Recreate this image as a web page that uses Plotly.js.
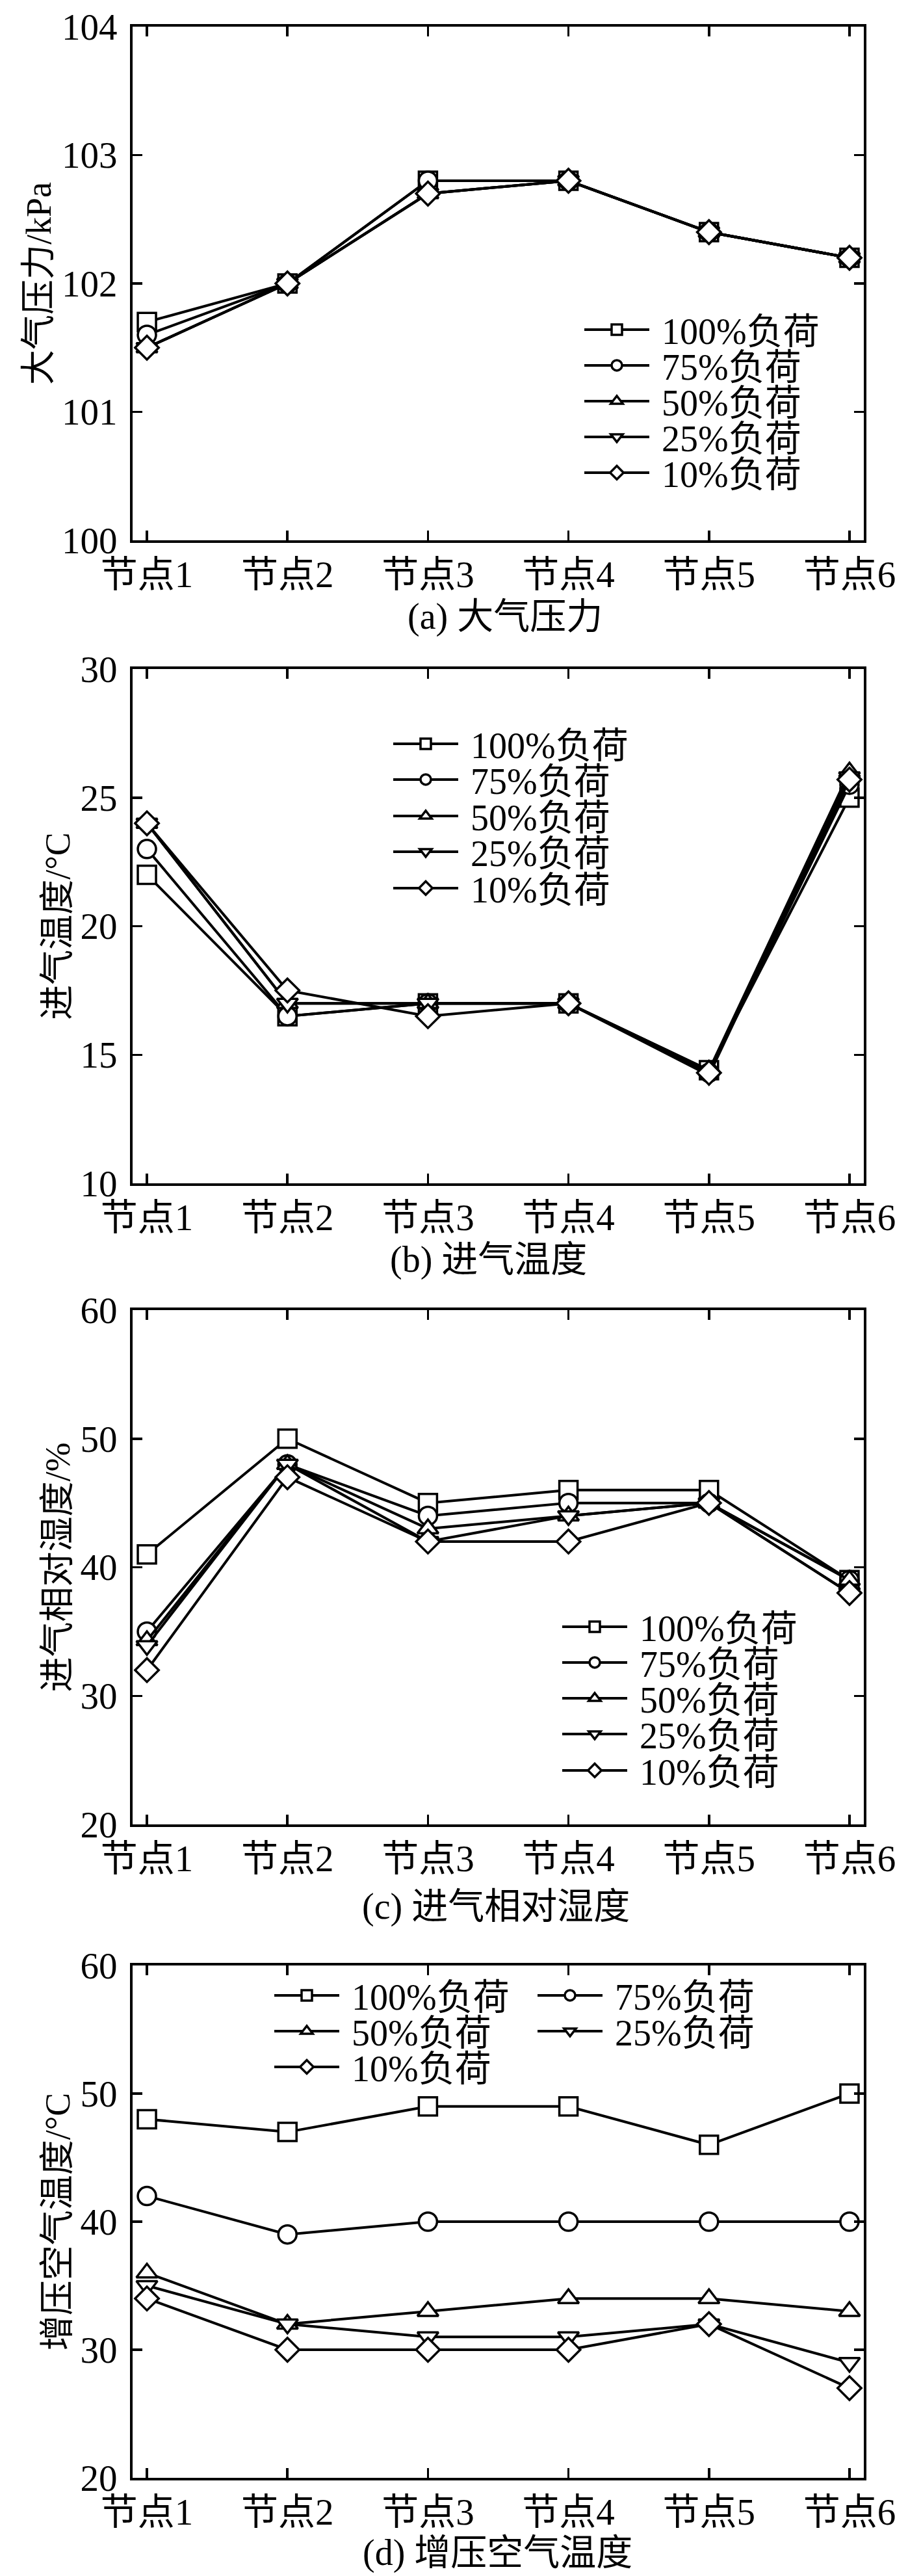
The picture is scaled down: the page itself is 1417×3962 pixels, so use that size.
<!DOCTYPE html>
<html>
<head>
<meta charset="utf-8">
<script src="https://cdn.plot.ly/plotly-3.0.1.min.js"></script>
<style>html,body{margin:0;padding:0;background:#fff;}#chart{width:1417px;height:3962px;}</style>
</head>
<body>
<div id="chart"></div>
<script>
// ---- data ----
var categories = ['节点1', '节点2', '节点3', '节点4', '节点5', '节点6'];
var seriesNames = ['100%负荷', '75%负荷', '50%负荷', '25%负荷', '10%负荷'];

// (a) 大气压力 / kPa
var pressure100 = [101.7, 102.0, 102.8, 102.8, 102.4, 102.2];
var pressure75  = [101.6, 102.0, 102.8, 102.8, 102.4, 102.2];
var pressure50  = [101.5, 102.0, 102.7, 102.8, 102.4, 102.2];
var pressure25  = [101.5, 102.0, 102.7, 102.8, 102.4, 102.2];
var pressure10  = [101.5, 102.0, 102.7, 102.8, 102.4, 102.2];

// (b) 进气温度 / °C
var intakeTemp100 = [22, 16.5, 17, 17, 14.4, 25];
var intakeTemp75  = [23, 16.5, 17, 17, 14.3, 25.5];
var intakeTemp50  = [24, 17, 17, 17, 14.4, 26];
var intakeTemp25  = [24, 17, 17, 17, 14.2, 25.8];
var intakeTemp10  = [24, 17.5, 16.5, 17, 14.3, 25.7];

// (c) 进气相对湿度 / %
var humidity100 = [41, 50, 45, 46, 46, 39];
var humidity75  = [35, 48, 44, 45, 45, 39];
var humidity50  = [34.3, 48, 43, 44, 45, 39];
var humidity25  = [33.9, 48, 42, 44, 45, 38];
var humidity10  = [32, 47, 42, 42, 45, 38];

// (d) 增压空气温度 / °C
var boostTemp100 = [48, 47, 49, 49, 46, 50];
var boostTemp75  = [42, 39, 40, 40, 40, 40];
var boostTemp50  = [36, 32, 33, 34, 34, 33];
var boostTemp25  = [35, 32, 31, 31, 32, 29];
var boostTemp10  = [34, 30, 30, 30, 32, 27];

var panelCaptions = ['(a) 大气压力', '(b) 进气温度', '(c) 进气相对湿度', '(d) 增压空气温度'];
var yTitles = ['大气压力/kPa', '进气温度/°C', '进气相对湿度/%', '增压空气温度/°C'];
var yRanges = [[100, 104], [10, 30], [20, 60], [20, 60]];
var yDticks = [1, 5, 10, 10];

(function () {
  var W = 1417, H = 3962;
  var FONT = "'Liberation Serif', 'Noto Sans CJK SC', serif";
  var symbols = ['square', 'circle', 'triangle-up', 'triangle-down', 'diamond'];
  var marginL = 204, marginR = 88;
  var plotW = W - marginL - marginR;
  function px2x(px) { return (px - marginL) / plotW; }
  function py2y(py) { return 1 - py / H; }

  var panelData = [
    [pressure100, pressure75, pressure50, pressure25, pressure10],
    [intakeTemp100, intakeTemp75, intakeTemp50, intakeTemp25, intakeTemp10],
    [humidity100, humidity75, humidity50, humidity25, humidity10],
    [boostTemp100, boostTemp75, boostTemp50, boostTemp25, boostTemp10]
  ];
  var panelPx = [[41, 831], [1029, 1820], [2015, 2806], [3023, 3811]];
  var legendPos = [
    [[894, 507], [894, 562], [894, 617], [894, 672], [894, 727]],
    [[600, 1144], [600, 1199], [600, 1255], [600, 1310], [600, 1366]],
    [[860, 2502], [860, 2557], [860, 2612], [860, 2667], [860, 2723]],
    [[417, 3069], [822, 3069], [417, 3124], [822, 3124], [417, 3179]]
  ];
  var captionPos = [[777, 948], [751, 1938], [763, 2932], [765, 3926]];

  var traces = [];
  var layout = {
    width: W, height: H,
    margin: {l: marginL, r: marginR, t: 0, b: 0},
    paper_bgcolor: '#fff', plot_bgcolor: 'rgba(0,0,0,0)',
    font: {family: FONT, color: '#000', size: 56},
    showlegend: true,
    annotations: []
  };

  var legendCount = 0;
  for (var p = 0; p < 4; p++) {
    var sfx = (p === 0 ? '' : String(p + 1));
    var xa = 'x' + sfx, ya = 'y' + sfx;
    for (var s = 0; s < 5; s++) {
      legendCount++;
      var lid = 'legend' + (legendCount === 1 ? '' : legendCount);
      traces.push({
        type: 'scatter', mode: 'lines+markers',
        x: categories, y: panelData[p][s],
        name: '\u00a0' + seriesNames[s],
        xaxis: xa, yaxis: ya,
        legend: lid,
        line: {color: '#000', width: 4},
        marker: {symbol: symbols[s], size: 28, color: '#fff', line: {color: '#000', width: 3.5}},
        cliponaxis: false
      });
      layout[lid] = {
        x: px2x(legendPos[p][s][0]), y: py2y(legendPos[p][s][1]),
        xanchor: 'left', yanchor: 'middle',
        bgcolor: 'rgba(0,0,0,0)', borderwidth: 0,
        font: {family: FONT, size: 56, color: '#000'},
        itemwidth: 100
      };
    }
    var pTop = panelPx[p][0], pBot = panelPx[p][1];
    layout['xaxis' + sfx] = {
      domain: [0, 1],
      anchor: ya,
      type: 'category',
      range: [-0.102, 5.102],
      showline: true, linecolor: '#000', linewidth: 4, mirror: 'ticks',
      ticks: 'inside', ticklen: 15, tickwidth: 3.5, tickcolor: '#000',
      showgrid: false, zeroline: false,
      tickfont: {family: FONT, size: 57, color: '#000'},
      ticklabelstandoff: 0,
      fixedrange: true
    };
    layout['yaxis' + sfx] = {
      domain: [py2y(pBot), py2y(pTop)],
      anchor: xa,
      range: yRanges[p], dtick: yDticks[p], tick0: yRanges[p][0],
      showline: true, linecolor: '#000', linewidth: 4, mirror: 'ticks',
      ticks: 'inside', ticklen: 15, tickwidth: 3.5, tickcolor: '#000',
      showgrid: false, zeroline: false,
      tickfont: {family: FONT, size: 57, color: '#000'},
      ticklabelstandoff: 8,
      title: {text: yTitles[p], font: {family: FONT, size: 54, color: '#000'}, standoff: 0},
      fixedrange: true
    };
    layout.annotations.push({
      text: panelCaptions[p], xref: 'paper', yref: 'paper',
      x: px2x(captionPos[p][0]), y: py2y(captionPos[p][1]),
      xanchor: 'center', yanchor: 'middle', showarrow: false,
      font: {family: FONT, size: 56, color: '#000'}
    });
  }

  Plotly.newPlot('chart', traces, layout, {staticPlot: true, displayModeBar: false});
})();
</script>
</body>
</html>
